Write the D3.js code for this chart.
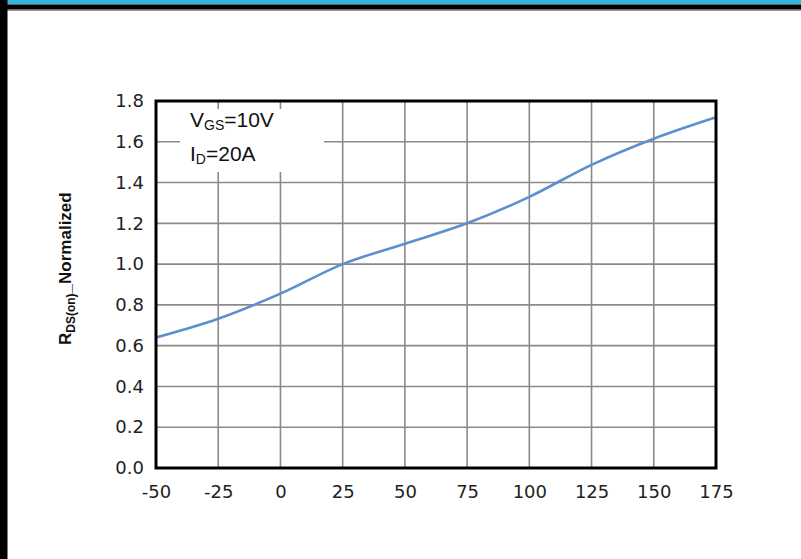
<!DOCTYPE html>
<html>
<head>
<meta charset="utf-8">
<script src="https://cdn.jsdelivr.net/npm/d3@7"></script>
<style>
  html, body { margin: 0; padding: 0; background: #fff; }
  svg { display: block; }
</style>
</head>
<body>
<svg id="chart" width="801" height="559"></svg>
<script>
// ---- data ----
const tempC = [-50, -25, 0, 25, 50, 75, 100, 125, 150, 175];
const rdsNorm = [0.64, 0.732, 0.855, 1.0, 1.10, 1.20, 1.33, 1.487, 1.615, 1.72];
const xTicks = [-50, -25, 0, 25, 50, 75, 100, 125, 150, 175];
const yTicks = [0.0, 0.2, 0.4, 0.6, 0.8, 1.0, 1.2, 1.4, 1.6, 1.8];
const annoLine1 = ["V", "GS", "=10V"];
const annoLine2 = ["I", "D", "=20A"];

const svg = d3.select("#chart");

// frame decorations
svg.append("rect").attr("x", 0).attr("y", 0).attr("width", 801).attr("height", 4.5).attr("fill", "#39b5dd");
svg.append("rect").attr("x", 0).attr("y", 4.5).attr("width", 801).attr("height", 5).attr("fill", "#000");
svg.append("rect").attr("x", 0).attr("y", 9.5).attr("width", 801).attr("height", 1.2).attr("fill", "#666");
svg.append("rect").attr("x", 0).attr("y", 0).attr("width", 7.5).attr("height", 559).attr("fill", "#000");

const L = 156, R = 716, T = 101, B = 468;
const x = d3.scaleLinear().domain([-50, 175]).range([L, R]);
const y = d3.scaleLinear().domain([0, 1.8]).range([B, T]);

// grid
const g = svg.append("g");
g.selectAll("line.vx").data(xTicks.slice(1, -1)).join("line")
  .attr("x1", d => x(d)).attr("x2", d => x(d)).attr("y1", T).attr("y2", B)
  .attr("stroke", "#8a8a8a").attr("stroke-width", 1.6);
g.selectAll("line.hy").data(yTicks.slice(1, -1)).join("line")
  .attr("y1", d => y(d)).attr("y2", d => y(d)).attr("x1", L).attr("x2", R)
  .attr("stroke", "#8a8a8a").attr("stroke-width", 1.6);

// annotation box masking grid
svg.append("rect").attr("x", 180).attr("y", 109).attr("width", 144).attr("height", 63).attr("fill", "#fff");

// curve
const line = d3.line().x((d, i) => x(tempC[i])).y(d => y(d)).curve(d3.curveMonotoneX);
svg.append("path").datum(rdsNorm).attr("d", line)
  .attr("fill", "none").attr("stroke", "#5b8fd1").attr("stroke-width", 2.6);

// border
svg.append("rect").attr("x", L).attr("y", T).attr("width", R - L).attr("height", B - T)
  .attr("fill", "none").attr("stroke", "#000").attr("stroke-width", 3);

// axes labels via d3 axes (no visible domain/ticks)
const fontTick = "'DejaVu Sans', Verdana, sans-serif";
const xAxis = svg.append("g").attr("transform", `translate(0,${B})`)
  .call(d3.axisBottom(x).tickValues(xTicks).tickSize(0).tickPadding(17).tickFormat(d => String(d)));
xAxis.select(".domain").remove();
xAxis.selectAll("text").attr("font-family", fontTick).attr("font-size", 18).attr("fill", "#222");

const yAxis = svg.append("g").attr("transform", `translate(${L},0)`)
  .call(d3.axisLeft(y).tickValues(yTicks).tickSize(0).tickPadding(12).tickFormat(d3.format(".1f")));
yAxis.select(".domain").remove();
yAxis.selectAll("text").attr("font-family", fontTick).attr("font-size", 18).attr("fill", "#222");

// y axis title
const yt = svg.append("text")
  .attr("transform", "translate(71,345) rotate(-90)")
  .attr("font-family", "'Liberation Sans', Arial, sans-serif")
  .attr("font-weight", "bold").attr("font-size", 17).attr("fill", "#111");
yt.append("tspan").text("R");
yt.append("tspan").attr("font-size", 12).attr("dy", 4).text("DS(on)");
yt.append("tspan").attr("dy", -4).text("_Normalized");

// annotation
const af = "'Liberation Sans', Arial, sans-serif";
const a1 = svg.append("text").attr("x", 190).attr("y", 127).attr("font-family", af).attr("font-size", 21).attr("fill", "#111");
a1.append("tspan").text(annoLine1[0]);
a1.append("tspan").attr("font-size", 14).attr("dy", 3).text(annoLine1[1]);
a1.append("tspan").attr("dy", -3).text(annoLine1[2]);
const a2 = svg.append("text").attr("x", 190).attr("y", 161).attr("font-family", af).attr("font-size", 21).attr("fill", "#111");
a2.append("tspan").text(annoLine2[0]);
a2.append("tspan").attr("font-size", 14).attr("dy", 3).text(annoLine2[1]);
a2.append("tspan").attr("dy", -3).text(annoLine2[2]);
</script>
</body>
</html>
